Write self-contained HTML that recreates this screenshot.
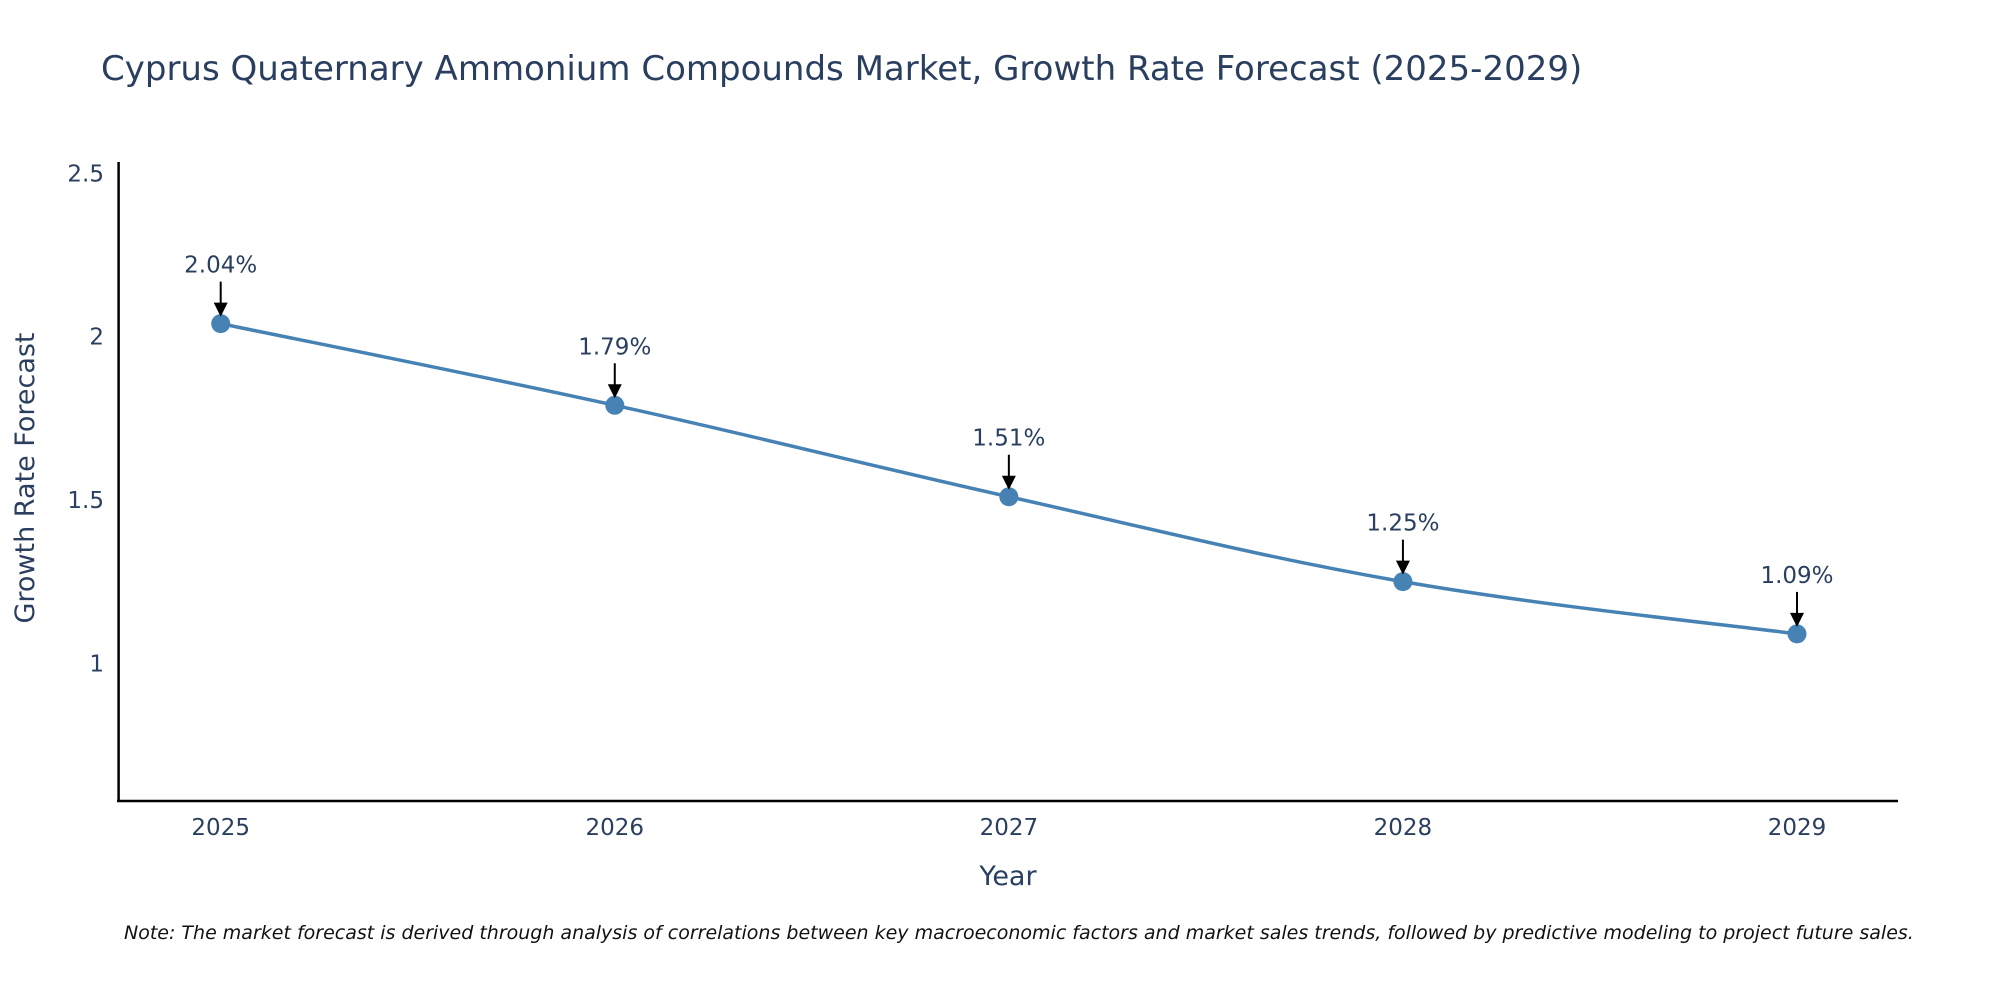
<!DOCTYPE html>
<html><head><meta charset="utf-8"><style>
body{margin:0;background:#fff;}
svg text{font-family:"DejaVu Sans","Liberation Sans",sans-serif;}
</style></head><body>
<svg id="chart" width="2000" height="1000" xmlns="http://www.w3.org/2000/svg">
<text x="101" y="80" font-size="34" fill="#2a3f5f">Cyprus Quaternary Ammonium Compounds Market, Growth Rate Forecast (2025-2029)</text>
<g id="yticks"></g>
<g id="xticks"></g>
<line x1="118.6" y1="162" x2="118.6" y2="802" stroke="#000" stroke-width="2.5"/>
<line x1="117" y1="801" x2="1898" y2="801" stroke="#000" stroke-width="2.5"/>
<text x="1008" y="885" font-size="27" fill="#2a3f5f" text-anchor="middle">Year</text>
<text transform="translate(34,478) rotate(-90)" font-size="27" fill="#2a3f5f" text-anchor="middle">Growth Rate Forecast</text>
<g id="series"></g>
<text x="124" y="939" font-size="19" font-style="italic" fill="#111">Note: The market forecast is derived through analysis of correlations between key macroeconomic factors and market sales trends, followed by predictive modeling to project future sales.</text>
</svg>
<script>
const categories = ["2025","2026","2027","2028","2029"];
const values = [2.04, 1.79, 1.51, 1.25, 1.09];
const valueLabels = ["2.04%","1.79%","1.51%","1.25%","1.09%"];
const yTickValues = [1, 1.5, 2, 2.5];
const yTickLabels = ["1","1.5","2","2.5"];
const NS="http://www.w3.org/2000/svg";
function xs(i){return 220.7 + i*(1797-220.7)/(categories.length-1);}
function ys(v){return 663.3 - (v-1)*(663.3-336.7);}
function mk(tag,attrs,parent){const e=document.createElementNS(NS,tag);for(const k in attrs)e.setAttribute(k,attrs[k]);parent.appendChild(e);return e;}
const yt=document.getElementById('yticks');
yTickValues.forEach((v,i)=>{
  const t=mk('text',{x:104,y:ys(v)+8,'font-size':23,fill:'#2a3f5f','text-anchor':'end'},yt);
  
  
  t.textContent=yTickLabels[i];
});
const xt=document.getElementById('xticks');
categories.forEach((c,i)=>{
  const t=mk('text',{x:xs(i),y:835,'font-size':23,fill:'#2a3f5f','text-anchor':'middle'},xt);
  
  
  t.textContent=c;
});
const s=document.getElementById('series');
const pts=values.map((v,i)=>[xs(i),ys(v)]);
let d="M"+pts[0][0]+","+pts[0][1];
for(let i=0;i<pts.length-1;i++){
  const p0=pts[Math.max(i-1,0)],p1=pts[i],p2=pts[i+1],p3=pts[Math.min(i+2,pts.length-1)];
  const k=0.18;
  const c1=[p1[0]+(p2[0]-p0[0])*k,p1[1]+(p2[1]-p0[1])*k];
  const c2=[p2[0]-(p3[0]-p1[0])*k,p2[1]-(p3[1]-p1[1])*k];
  d+=" C"+c1+" "+c2+" "+p2;
}
const line=mk('path',{d:d,fill:'none',stroke:'#4682B4','stroke-width':3.5},s);


pts.forEach((p,i)=>{
  const c=mk('circle',{cx:p[0],cy:p[1],r:9.5,fill:'#4682B4'},s);
  
  
  const a=mk('line',{x1:p[0],y1:p[1]-42,x2:p[0],y2:p[1]-20,stroke:'#000','stroke-width':2},s);
  
  
  const h=mk('polygon',{points:(p[0]-7)+","+(p[1]-21)+" "+(p[0]+7)+","+(p[1]-21)+" "+p[0]+","+(p[1]-7),fill:'#000'},s);
  
  
  const t=mk('text',{x:p[0],y:p[1]-51,'font-size':23,fill:'#2a3f5f','text-anchor':'middle'},s);
  
  
  t.textContent=valueLabels[i];
});
</script>
</body></html>
